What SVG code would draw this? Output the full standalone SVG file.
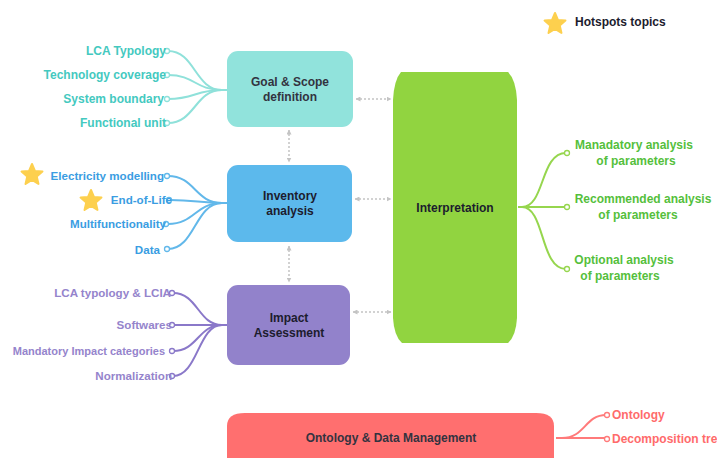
<svg xmlns="http://www.w3.org/2000/svg" width="717" height="458" viewBox="0 0 717 458">
<style>
text{font-family:"Liberation Sans",Arial,sans-serif;font-weight:bold;font-size:12px}
.box{font-size:12px;fill:#333340;text-anchor:middle}
.g{fill:#44c9bf}.gl{stroke:#8fe1da}
.i{fill:#3a9de2;font-size:11.6px}.il{stroke:#62b8ea}
.p{fill:#9584cc;font-size:11.6px}.pl{stroke:#8a78c9}
.gr{fill:#55bf3c}.grl{stroke:#96d64e}
.r{fill:#ff6b6b}.rl{stroke:#ff7a7a}
.br{fill:none;stroke-width:2}
.dot{fill:#fff;stroke-width:1.3}
.arr{stroke:#c4c4c4;stroke-width:1.5;stroke-dasharray:2 2;fill:none;marker-start:url(#ah);marker-end:url(#ah)}
.star{fill:#fdd04e;stroke:#fdd04e;stroke-width:2;stroke-linejoin:round}
</style>
<defs>
<marker id="ah" viewBox="0 0 10 10" refX="9" refY="5" markerWidth="5" markerHeight="5" orient="auto-start-reverse" markerUnits="userSpaceOnUse">
<path d="M0,0 L10,5 L0,10 Z" fill="#c4c4c4"/>
</marker>
<path id="st" d="M0,-11 L2.94,-4.05 L10.46,-3.40 L4.76,1.55 L6.47,8.90 L0,5 L-6.47,8.90 L-4.76,1.55 L-10.46,-3.40 L-2.94,-4.05 Z"/>
</defs>
<rect width="717" height="458" fill="#fff"/>

<g id="legend">
<use href="#st" class="star" x="555" y="24"/>
<text x="575" y="26" fill="#1c1c2e">Hotspots topics</text>
</g>

<g id="connectors">
<path class="arr" d="M289,130 V162"/>
<path class="arr" d="M289,246 V282"/>
<path class="arr" d="M356,99 H391"/>
<path class="arr" d="M355,199 H391"/>
<path class="arr" d="M353,312 H391"/>
<g class="gl br">
<path d="M227,90 H222 C195,90 195,51 168,51"/>
<path d="M222,90 C195,90 195,75 168,75"/>
<path d="M222,90 C195,90 195,99 168,99"/>
<path d="M222,90 C195,90 195,123 168,123"/>
</g>
<g class="gl dot"><circle cx="167" cy="51" r="2.5"/><circle cx="167" cy="75" r="2.5"/><circle cx="167" cy="99" r="2.5"/><circle cx="167" cy="123" r="2.5"/></g>
<g class="il br">
<path d="M227,203 H222 C195,203 195,176 168,176"/>
<path d="M222,203 C200,203 195,200 170,200"/>
<path d="M222,203 C195,203 195,224 168,224"/>
<path d="M222,203 C195,203 195,249 168,249"/>
</g>
<g class="il dot"><circle cx="167" cy="176" r="2.5"/><circle cx="169" cy="200" r="2.5"/><circle cx="166" cy="224" r="2.5"/><circle cx="167" cy="249" r="2.5"/></g>
<g class="pl br">
<path d="M227,325 H222 C198,325 198,293 173,293"/>
<path d="M222,325 H173"/>
<path d="M222,325 C198,325 198,351 173,351"/>
<path d="M222,325 C198,325 198,376 173,376"/>
</g>
<g class="pl dot"><circle cx="172" cy="293" r="2.5"/><circle cx="172" cy="325" r="2.5"/><circle cx="172" cy="351" r="2.5"/><circle cx="172" cy="376" r="2.5"/></g>
<g class="grl br">
<path d="M518,207 H522 C545,207 540,153 566,153"/>
<path d="M522,207 H566"/>
<path d="M522,207 C545,207 540,269 566,269"/>
</g>
<g class="grl dot"><circle cx="567" cy="153" r="2.5"/><circle cx="567" cy="207" r="2.5"/><circle cx="567" cy="269" r="2.5"/></g>
<g class="rl br">
<path d="M556,438 H562 C585,438 585,415 606,415"/>
<path d="M562,438 H606"/>
</g>
<g class="rl dot"><circle cx="607" cy="415" r="2.5"/><circle cx="607" cy="439" r="2.5"/></g>
</g>

<g id="goal">
<rect x="227" y="51" width="126" height="76" rx="11" fill="#91e3dc"/>
<text class="box" x="290" y="86">Goal &amp; Scope</text>
<text class="box" x="290" y="101">definition</text>
</g>
<g id="goal-items" text-anchor="end">
<text class="g" x="166" y="55">LCA Typology</text>
<text class="g" x="166" y="79">Technology coverage</text>
<text class="g" x="164" y="103">System boundary</text>
<text class="g" x="166" y="127">Functional unit</text>
</g>

<g id="inventory">
<rect x="227" y="165" width="125" height="77" rx="11" fill="#5cb9ec"/>
<text class="box" x="290" y="200" style="fill:#1c1c2e">Inventory</text>
<text class="box" x="290" y="215" style="fill:#1c1c2e">analysis</text>
</g>
<g id="inventory-items" text-anchor="end">
<text class="i" x="164" y="180">Electricity modelling</text>
<text class="i" x="172" y="204">End-of-Life</text>
<text class="i" x="166" y="228">Multifunctionality</text>
<text class="i" x="160" y="254">Data</text>
<use href="#st" class="star" x="32" y="175"/>
<use href="#st" class="star" x="91" y="201"/>
</g>

<g id="impact">
<rect x="227" y="285" width="123" height="80" rx="11" fill="#9282cb"/>
<text class="box" x="289" y="322" style="fill:#1c1c2e">Impact</text>
<text class="box" x="289" y="337" style="fill:#1c1c2e">Assessment</text>
</g>
<g id="impact-items" text-anchor="end">
<text class="p" x="171" y="297">LCA typology &amp; LCIA</text>
<text class="p" x="172" y="329">Softwares</text>
<text class="p" x="165" y="355" style="font-size:11px">Mandatory Impact categories</text>
<text class="p" x="172" y="380">Normalization</text>
</g>

<g id="interpretation">
<path d="M401,72 L508,72 Q516,80 517,100 L517,318 Q516,336 508,343 L402,343 Q394,336 393,318 L393,100 Q394,80 401,72 Z" fill="#91d440"/>
<text class="box" x="455" y="212" style="fill:#1c1c2e">Interpretation</text>
</g>
<g id="interpretation-items" text-anchor="middle">
<text class="gr" x="634" y="149">Manadatory analysis</text>
<text class="gr" x="636" y="165">of parameters</text>
<text class="gr" x="643" y="203">Recommended analysis</text>
<text class="gr" x="638" y="219">of parameters</text>
<text class="gr" x="624" y="264">Optional analysis</text>
<text class="gr" x="620" y="280">of parameters</text>
</g>

<g id="ontology">
<path d="M227,470 V426 Q227,413 245,413 L536,413 Q554,413 554,426 V470 Z" fill="#ff6f6f"/>
<text class="box" x="391" y="442">Ontology &amp; Data Management</text>
</g>
<g id="ontology-items">
<text class="r" x="612" y="419">Ontology</text>
<text class="r" x="612" y="443">Decomposition tree</text>
</g>
</svg>
